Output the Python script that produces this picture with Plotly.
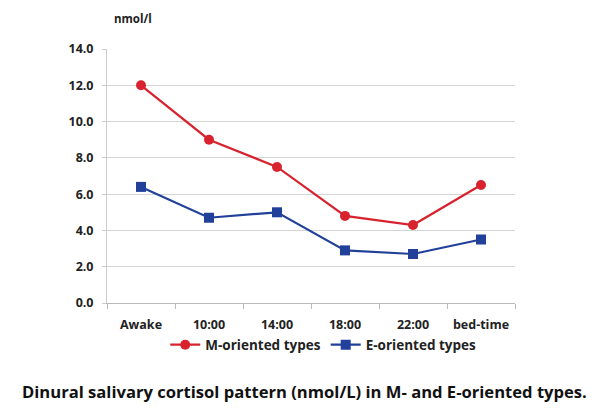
import plotly.graph_objects as go

categories = ["Awake", "10:00", "14:00", "18:00", "22:00", "bed-time"]
m_oriented = [12.0, 9.0, 7.5, 4.8, 4.3, 6.5]
e_oriented = [6.4, 4.7, 5.0, 2.9, 2.7, 3.5]
y_ticks = [0, 2, 4, 6, 8, 10, 12, 14]
y_tick_labels = ["0.0", "2.0", "4.0", "6.0", "8.0", "10.0", "12.0", "14.0"]

FONT = "Open Sans"
RED = "#d8232e"
BLUE = "#21409a"
TXT = "#222222"

fig = go.Figure()
fig.add_trace(go.Scatter(
    x=categories, y=m_oriented, name="M-oriented types", mode="lines+markers",
    line=dict(color=RED, width=2.2), marker=dict(symbol="circle", size=10, color=RED)))
fig.add_trace(go.Scatter(
    x=categories, y=e_oriented, name="E-oriented types", mode="lines+markers",
    line=dict(color=BLUE, width=2.2), marker=dict(symbol="square", size=10, color=BLUE)))

fig.update_layout(
    width=610, height=416,
    margin=dict(l=107, r=95, t=49, b=113),
    paper_bgcolor="white", plot_bgcolor="white",
    font=dict(family=FONT, size=12, color=TXT),
    showlegend=True,
    legend=dict(orientation="h", x=0.53, xanchor="center", y=-0.165, yanchor="middle",
                font=dict(family=FONT, size=13.5, color=TXT, weight="bold"),
                itemwidth=30, tracegroupgap=0),
    xaxis=dict(type="category", range=[-0.5, 5.5], tickson="boundaries",
               ticks="outside", ticklen=5, tickcolor="#bbbbbb", ticklabelstandoff=10,
               showline=True, linecolor="#bbbbbb", linewidth=1, showgrid=False,
               tickfont=dict(family=FONT, size=12.5, color=TXT, weight="bold")),
    yaxis=dict(range=[0, 14], tickvals=y_ticks, ticktext=y_tick_labels,
               ticks="outside", ticklen=4, tickcolor="#cccccc", ticklabelstandoff=6,
               showline=True, linecolor="#cccccc", linewidth=1,
               showgrid=True, gridcolor="#d4d4d4", gridwidth=1, zeroline=False,
               tickfont=dict(family=FONT, size=12.5, color=TXT, weight="bold")),
    annotations=[
        dict(text="nmol/l", xref="paper", yref="paper", x=0.012, y=1.12,
             xanchor="left", yanchor="middle", showarrow=False,
             font=dict(family=FONT, size=11.5, color=TXT, weight="bold")),
        dict(text="Dinural salivary cortisol pattern (nmol/L) in M- and E-oriented types.",
             xref="paper", yref="paper", x=0.485, y=-0.35, xanchor="center", yanchor="middle",
             showarrow=False,
             font=dict(family=FONT, size=16.6, color="#111111", weight="bold")),
    ],
)

fig.write_html("out.html", config={"displayModeBar": False},
               post_script="document.body.style.margin='0';")
